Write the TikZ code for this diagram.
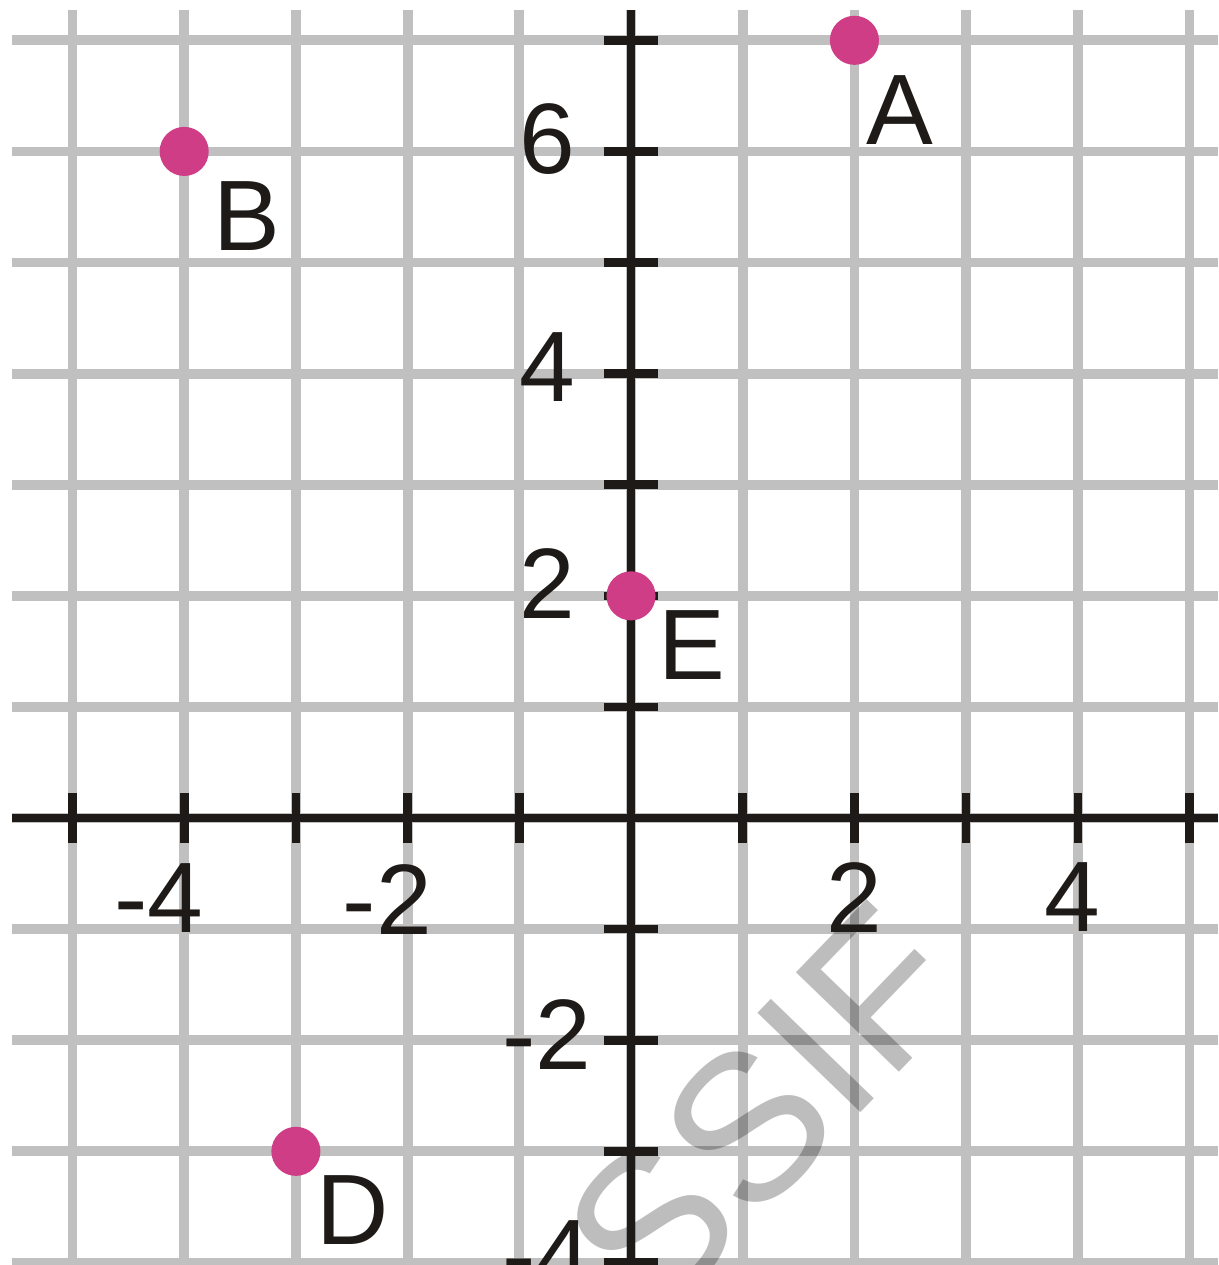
\documentclass[tikz,border=0pt]{standalone}
\usepackage{fontspec}
\setmainfont{Liberation Sans}
\definecolor{gridgray}{RGB}{192,192,192}
\definecolor{axisblack}{RGB}{30,26,24}
\definecolor{ptpink}{RGB}{207,61,135}
\begin{document}
\begin{tikzpicture}[x=1cm,y=0.9946cm,
  gridline/.style={gridgray, line width=2.5pt},
  axisline/.style={axisblack, line width=2.1pt},
  tickmark/.style={axisblack, line width=2.2pt},
  numlabel/.style={font=\fontsize{25.5pt}{30pt}\selectfont, text=axisblack, inner sep=0pt},
  ptlabel/.style={numlabel},
  dot/.style={circle, fill=ptpink, minimum size=12.5pt, inner sep=0pt},
  watermark/.style={font=\fontsize{53pt}{62pt}\selectfont, text=black, text opacity=0.26, rotate=46, inner sep=0pt}]
\useasboundingbox (-5.649,-4.023) rectangle (5.255,7.363);
\fill[white] (-5.649,-4.023) rectangle (5.255,7.363);
% grid
\foreach \i in {-4,...,7} \draw[gridline] (-5.54,\i) -- (5.255,\i);
\foreach \i in {-5,...,5} \draw[gridline] (\i,7.27) -- (\i,-4.023);
% watermark
\node[watermark] (wm) at (1.19,-2.628) {SSIF};
% axes
\coordinate (xl) at (-5.54,0);
\coordinate (xr) at (5.255,0);
\coordinate (yt) at (0,7.27);
\coordinate (yb) at (0,-4.023);
\draw[axisline] (xl) -- (xr);
\draw[axisline] (yt) -- (yb);
% ticks
\foreach \i in {-5,-4,-3,-2,-1,1,2,3,4,5} \draw[tickmark] (\i,-0.225) -- (\i,0.225);
\foreach \i in {-4,-3,-2,-1,1,2,3,4,5,6,7} \draw[tickmark] (-0.245,\i) -- (0.245,\i);
% axis labels
\node[numlabel] (y6) at (-0.752,6.11) {6};
\node[numlabel] (y4) at (-0.752,4.055) {4};
\node[numlabel] (y2) at (-0.752,2.115) {2};
\node[numlabel] (ym2) at (-0.752,-1.95) {-2};
\node[numlabel] (ym4) at (-0.752,-3.93) {-4};
\node[numlabel] (xm4) at (-4.226,-0.72) {-4};
\node[numlabel] (xm2) at (-2.18,-0.738) {-2};
\node[numlabel] (x2) at (1.996,-0.72) {2};
\node[numlabel] (x4) at (3.948,-0.707) {4};
% points
\node[dot] (A) at (2,7) {};
\node[dot] (B) at (-4,6) {};
\node[dot] (D) at (-3,-3) {};
\node[dot] (E) at (0,2) {};
\node[ptlabel] (la) at (2.408,6.373) {A};
\node[ptlabel] (lb) at (-3.438,5.419) {B};
\node[ptlabel] (ld) at (-2.489,-3.528) {D};
\node[ptlabel] (le) at (0.546,1.557) {E};
\end{tikzpicture}
\end{document}
